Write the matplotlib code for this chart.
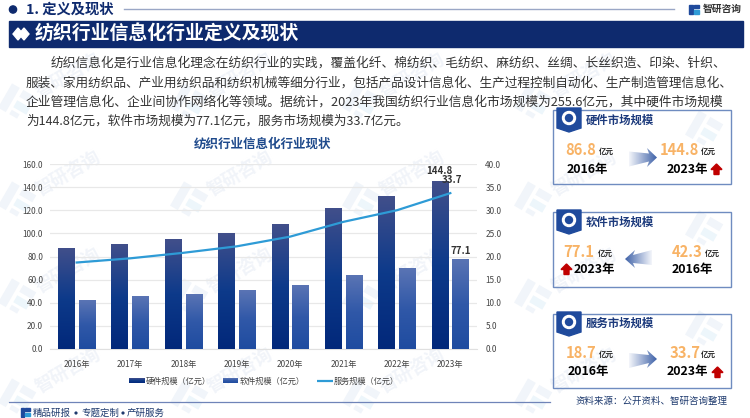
import numpy as np
import matplotlib
matplotlib.use("Agg")
import matplotlib.pyplot as plt
from matplotlib.colors import LinearSegmentedColormap
from matplotlib.patches import Polygon, Rectangle, Circle
from matplotlib.transforms import Affine2D

plt.rcParams['font.family'] = ['Noto Sans CJK SC', 'DejaVu Sans']

years = ['2016年', '2017年', '2018年', '2019年', '2020年', '2021年', '2022年', '2023年']
hardware = [86.8, 90.5, 94.7, 99.8, 107.5, 121.5, 132.0, 144.8]
software = [42.3, 45.0, 47.5, 51.0, 55.0, 63.5, 70.0, 77.1]
service = [18.7, 19.6, 20.8, 22.2, 24.3, 27.5, 30.0, 33.7]
series_names = ['硬件规模（亿元）', '软件规模（亿元）', '服务规模（亿元）']
left_ticks = [0, 20, 40, 60, 80, 100, 120, 140, 160]
right_ticks = [0, 5, 10, 15, 20, 25, 30, 35, 40]
body_lines = [
    '纺织信息化是行业信息化理念在纺织行业的实践，覆盖化纤、棉纺织、毛纺织、麻纺织、丝绸、长丝织造、印染、针织、',
    '服装、家用纺织品、产业用纺织品和纺织机械等细分行业，包括产品设计信息化、生产过程控制自动化、生产制造管理信息化、',
    '企业管理信息化、企业间协作网络化等领域。据统计，2023年我国纺织行业信息化市场规模为255.6亿元，其中硬件市场规模',
    '为144.8亿元，软件市场规模为77.1亿元，服务市场规模为33.7亿元。',
]
footer_parts = ['精品研报', '专题定制', '产研服务']

NAVY = '#0e2a6e'
HW_COLORS = ['#414f8b', '#0d3a8a', '#02287a']
SW_COLORS = ['#5a74b4', '#3058a8', '#1f4ca0']
fig = plt.figure(figsize=(7.5, 4.18), dpi=100, facecolor='white')
W, H = 750, 418

bg = fig.add_axes([0, 0, 1, 1], zorder=0)
bg.set_axis_off()


def grad(axis, x0, x1, y0, y1, colors, clip=None, horizontal=False, zorder=2):
    cmap = LinearSegmentedColormap.from_list('g', colors)
    arr = np.linspace(0, 1, 128)
    arr = arr.reshape(1, -1) if horizontal else arr.reshape(-1, 1)
    im = axis.imshow(arr, extent=(x0, x1, y1, y0), origin='upper' if not horizontal else 'lower',
                     cmap=cmap, aspect='auto', zorder=zorder, interpolation='bilinear')
    if clip is not None:
        im.set_clip_path(clip)
    return im


def wm_logo(cx, cy):
    tr = Affine2D().rotate_deg_around(cx, cy, 30) + bg.transData
    for rx, ry, rw, rh, col in ((-15, -14, 9, 28, '#f1f5fa'), (-2, -14, 15, 8, '#f1f5fa'),
                                (-2, -2, 15, 8, '#edf6fb'), (-2, 9, 9, 5, '#f1f5fa')):
        bg.add_patch(Rectangle((cx + rx, cy + ry), rw, rh, fc=col, ec='none', transform=tr, zorder=1))


# watermarks
for wy in (75, 173, 270, 370):
    for wx in (68, 240, 412, 584):
        bg.text(wx, wy, '智研咨询', fontsize=13, color='#f1f4f9', rotation=30,
                ha='center', va='center', zorder=1, fontweight='bold')
        wm_logo(wx - 50, wy + 28)
for wy in (130, 230, 330):
    wm_logo(705, wy)

# header
bg.add_patch(Circle((13, 9.5), 3.6, color=NAVY, zorder=3))
bg.text(26, 9.5, '1. 定义及现状', fontsize=10.3, fontweight='bold', color=NAVY, va='center', zorder=3)
bg.plot([124, 674], [9, 9], color='#9aa7c6', lw=1, zorder=3)
bg.add_patch(Rectangle((689, 5), 3.5, 9, color='#1f4a9c', zorder=3))
bg.add_patch(Rectangle((694, 5), 5, 3, color='#1f4a9c', zorder=3))
bg.add_patch(Rectangle((694, 10), 5, 4, color='#2f9bd6', zorder=3))
bg.text(703, 9, '智研咨询', fontsize=7, fontweight='bold', color='#333333', va='center', zorder=3)

bg.add_patch(Rectangle((9, 21), 734, 26, color=NAVY, zorder=3))
for dx in (18, 24):
    bg.add_patch(Polygon([(dx, 28), (dx + 5, 34), (dx, 40), (dx - 5, 34)], color='white', zorder=4))
bg.text(35, 34, '纺织行业信息化行业定义及现状', fontsize=13.6, fontweight='bold', color='white',
        va='center', zorder=4)

# body
for i, (line, y, fs) in enumerate(zip(body_lines, (63, 83, 102, 121), (9.15, 9.1, 9.2, 9.05))):
    bg.text(51 if i == 0 else 26, y, line, fontsize=fs, color='#333333', va='center', zorder=3)

bg.text(263, 144, '纺织行业信息化行业现状', fontsize=9, fontweight='bold', color='#1f4a8c',
        ha='center', va='center', zorder=3)

# footer
bg.plot([9, 550], [402, 402], color='#6f84b8', lw=0.9, zorder=3)
bg.add_patch(Rectangle((21, 408), 3, 9, color='#1f4a9c', zorder=3))
bg.add_patch(Rectangle((25, 408), 5, 3, color='#1f4a9c', zorder=3))
bg.add_patch(Rectangle((25, 413), 5, 3, color='#2f9bd6', zorder=3))
for part, fx in zip(footer_parts, (33, 81, 127)):
    bg.text(fx, 413, part, fontsize=6.8, color='#1e3a6e', va='center', zorder=3)
for fx in (76, 123):
    bg.add_patch(Circle((fx, 413), 0.9, color='#1e3a6e', zorder=3))
bg.text(575, 401, '资料来源：公开资料、智研咨询整理', fontsize=6.8, color='#1e3a6e', va='center', zorder=3)

# panels
panels = [
    (110, 184, '硬件市场规模', 120, [
        ('86.8', 565, 150, 606, '2016年', 587, 169),
        ('144.8', 660, 150, 708, '2023年', 687, 169)], (629, 657, 148, 167, 'r'), (711, 164)),
    (212, 287, '软件市场规模', 222, [
        ('77.1', 563, 252, 605, '2023年', 594, 270),
        ('42.3', 672, 252, 712, '2016年', 692, 270)], (625, 652, 250, 268, 'l'), (561, 264)),
    (314, 388, '服务市场规模', 323, [
        ('18.7', 566, 353, 606, '2016年', 588, 372),
        ('33.7', 670, 353, 708, '2023年', 687, 372)], (629, 657, 350, 368, 'r'), (712, 367)),
]
for top, bot, title, ty, vals, arrow, red in panels:
    bg.add_patch(Rectangle((553, top), 178, bot - top, fc='none', ec='#6f8cc0', lw=1, zorder=3))
    r0 = top - 2
    bg.add_patch(Polygon([(557, r0), (581, r0), (581, r0 + 20), (569, r0 + 24), (557, r0 + 20)],
                         color='#1f4a9c', zorder=4))
    bg.add_patch(Circle((569, r0 + 10), 6.5, color='white', zorder=5))
    bg.add_patch(Circle((569, r0 + 10), 3.5, color='#1f4a9c', zorder=6))
    bg.text(586, ty, title, fontsize=8.2, fontweight='bold', color='#1c3a7c', va='center', zorder=5)
    for val, vx, vy, ux, yr, yx, yy in vals:
        bg.text(vx, vy, val, fontsize=10.6, fontweight='bold', color='#f8b366', va='center', zorder=5)
        bg.text(ux, vy + 1, '亿元', fontsize=5.4, fontweight='bold', color='#222222',
                ha='center', va='center', zorder=5)
        bg.text(yx, yy, yr, fontsize=8.9, fontweight='bold', color='black',
                ha='center', va='center', zorder=5)
    ax0, ax1, ay0, ay1, d = arrow
    my = (ay0 + ay1) / 2
    if d == 'r':
        pts = [(ax0, my - 6), (ax1 - 8, my - 4), (ax1 - 10, ay0), (ax1, my), (ax1 - 10, ay1), (ax1 - 8, my + 4), (ax0, my + 9)]
        cs = ['#f4f6fb', '#3f62a8']
    else:
        pts = [(ax1, my - 9), (ax0 + 8, my - 4), (ax0 + 10, ay0), (ax0, my), (ax0 + 10, ay1), (ax0 + 8, my + 4), (ax1, my + 6)]
        cs = ['#3f62a8', '#f4f6fb']
    poly = Polygon(pts, transform=bg.transData, fc='none', ec='none', zorder=4)
    bg.add_patch(poly)
    grad(bg, ax0, ax1, ay0, ay1, cs, clip=poly, horizontal=True, zorder=4)
    rx, ry = red
    bg.add_patch(Polygon([(rx + 5.5, ry), (rx + 11, ry + 5.5), (rx + 8, ry + 5.5), (rx + 8, ry + 10.5),
                          (rx + 3, ry + 10.5), (rx + 3, ry + 5.5), (rx, ry + 5.5)], color='#c00000', zorder=5))

# legend swatches
LY = 381
grad(bg, 129, 145, LY - 2.5, LY + 2.5, HW_COLORS, zorder=3)
grad(bg, 223, 238, LY - 2.5, LY + 2.5, SW_COLORS, zorder=3)
bg.plot([317, 333], [LY, LY], color='#2e9bd6', lw=1.6, zorder=3, solid_capstyle='butt')
for lx, name in zip((146, 240, 334), series_names):
    bg.text(lx, LY, name, fontsize=5.9, color='#444444', va='center', zorder=3)

bg.set_xlim(0, W)
bg.set_ylim(H, 0)

# chart
L, R, T, B = 50, 477, 164, 349
ax = fig.add_axes([L / W, 1 - B / H, (R - L) / W, (B - T) / H], zorder=2)
ax.patch.set_alpha(0)
x = np.arange(len(years))
off, bw = 0.195, 0.31
for vals, sign, cs in ((hardware, -1, HW_COLORS), (software, 1, SW_COLORS)):
    bars = ax.bar(x + sign * off, vals, bw, fc='none', ec='none', zorder=3)
    for b in bars:
        x0, w, h = b.get_x(), b.get_width(), b.get_height()
        grad(ax, x0, x0 + w, h, 0, cs, zorder=3)
ax.set_xlim(-0.5, len(years) - 0.5)
ax.set_ylim(0, 160)
ax.set_yticks(left_ticks)
ax.set_yticklabels([f'{t:.1f}' for t in left_ticks], fontsize=5.9, color='#444444')
ax.set_xticks(x)
ax.set_xticklabels(years, fontsize=5.9, color='#444444')
ax.tick_params(length=0, pad=5)
ax.tick_params(axis='x', pad=8)
ax.grid(axis='y', color='#e8e8e8', lw=0.9, zorder=1)
ax.set_axisbelow(True)
for s in ('top', 'right', 'left'):
    ax.spines[s].set_visible(False)
ax.spines['bottom'].set_color('#e0e0e0')

ax2 = ax.twinx()
ax2.set_zorder(3)
ax2.patch.set_alpha(0)
ax2.plot(x, service, color='#2e9bd6', lw=1.6, zorder=5)
ax2.set_ylim(0, 40)
ax2.set_yticks(right_ticks)
ax2.set_yticklabels([f'{t:.1f}' for t in right_ticks], fontsize=5.9, color='#444444')
ax2.tick_params(length=0, pad=6)
for s in ax2.spines.values():
    s.set_visible(False)

lab = dict(fontsize=7, fontweight='bold', color='#333333', ha='center', va='center', zorder=6)
ax2.annotate(f'{hardware[-1]:.1f}', (x[-1] - off, hardware[-1] / 4), xytext=(0, 7.5), textcoords='offset points', **lab)
ax2.annotate(f'{service[-1]:.1f}', (x[-1], service[-1]), xytext=(1, 9.5), textcoords='offset points', **lab)
ax2.annotate(f'{software[-1]:.1f}', (x[-1] + off, software[-1] / 4), xytext=(0, 6.5), textcoords='offset points', **lab)

fig.savefig('out.png', dpi=100)
